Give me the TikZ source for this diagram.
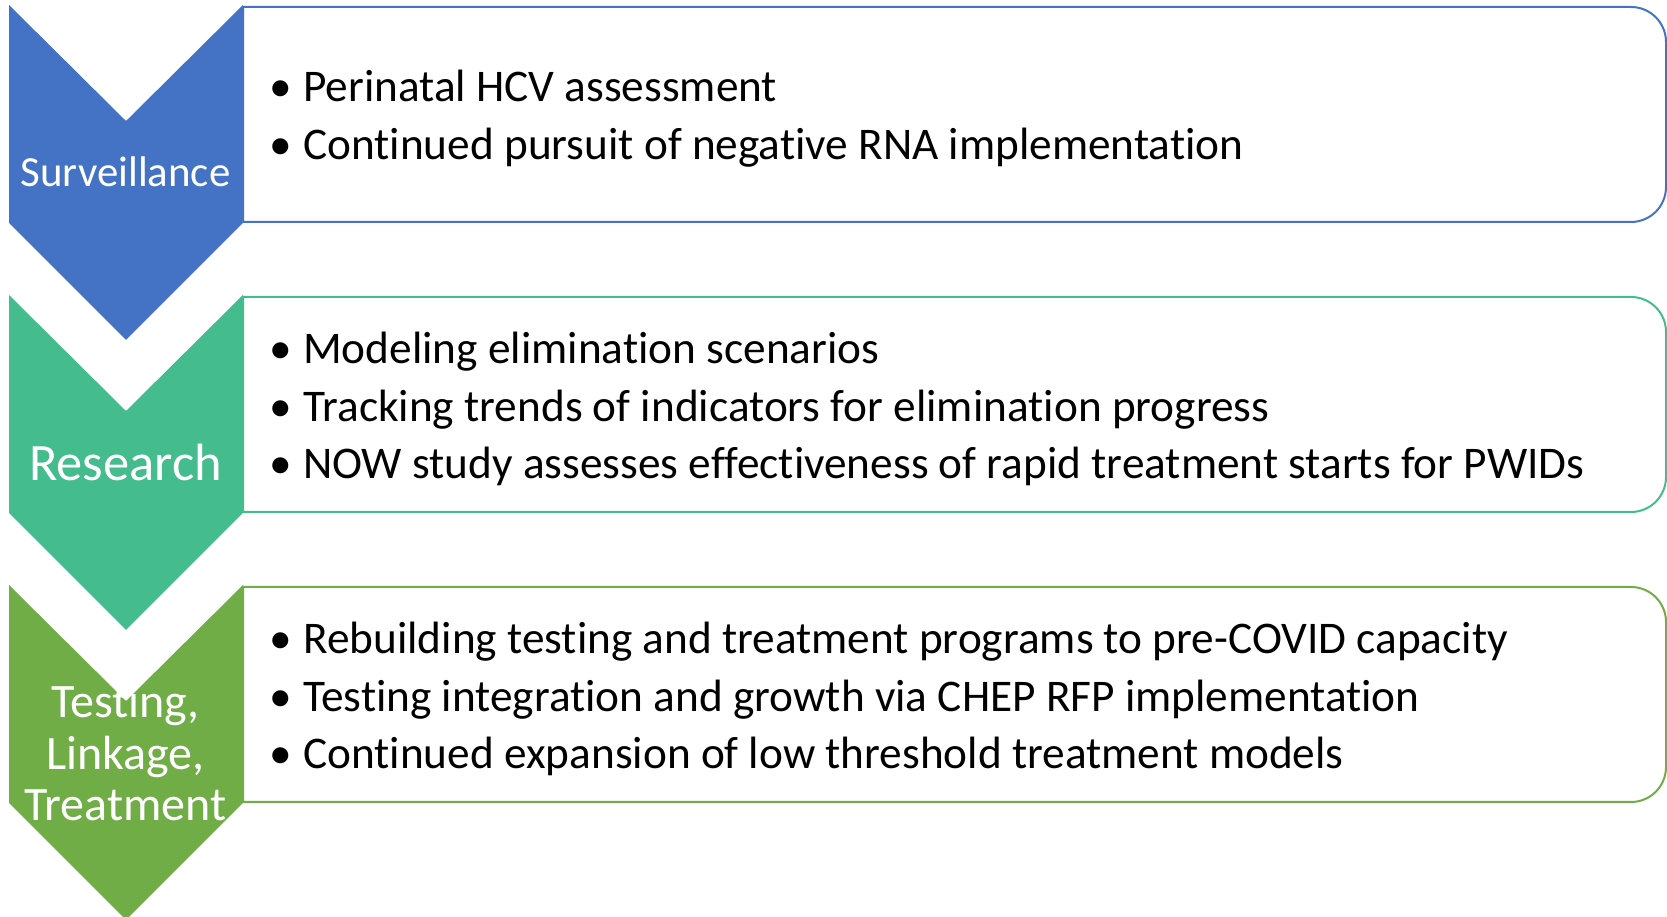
\documentclass[tikz,border=0pt]{standalone}
\usepackage{fontspec}
\setmainfont{Carlito}[RawFeature=-liga]
\definecolor{cblue}{HTML}{4472C4}
\definecolor{cteal}{HTML}{45BC8D}
\definecolor{cgreen}{HTML}{70AD47}
\tikzset{
  bodytext/.style={anchor=base west, inner sep=0pt, font=\fontsize{45.3}{54}\selectfont, text=black},
  chevtext/.style={inner sep=0pt, text=white, align=center},
  boxline/.style={line width=2pt},
}
\newcommand{\bul}{\makebox[34pt][l]{\textbullet}}
\begin{document}
\begin{tikzpicture}[x=1pt,y=1pt]
\useasboundingbox (0,0) rectangle (1667,917);
% boxes
\foreach \B/\c in {910/cblue,620/cteal,330/cgreen}{
  \draw[boxline,draw=\c] (243,\B-215) -- (243,\B) -- (1631,\B) arc (90:0:35) -- (1666,\B-180) arc (0:-90:35) -- cycle;
}
% chevrons
\foreach \T/\c in {912/cblue,622/cteal,332/cgreen}{
  \fill[\c] (9,\T) -- (126,\T-116) -- (243,\T) -- (243,\T-218) -- (126,\T-335) -- (9,\T-218) -- cycle;
}
% chevron labels
\node[chevtext, font=\fontsize{42.9}{46}\selectfont] (c1) at (125.5,745) {Surveillance};
\node[chevtext, font=\fontsize{52.5}{56}\selectfont] (c2) at (125.5,455) {Research};
\node[chevtext, font=\fontsize{48}{51.5}\selectfont] (c3) at (125.5,164) {Testing,\\Linkage,\\Treatment};
% body texts
\node[bodytext] (s1) at (269,917-102) {\bul Perinatal HCV assessment};
\node[bodytext] (s2) at (269,917-160) {\bul Continued pursuit of negative RNA implementation};
\node[bodytext] (r1) at (269,917-364) {\bul Modeling elimination scenarios};
\node[bodytext] (r2) at (269,917-422) {\bul Tracking trends of indicators for elimination progress};
\node[bodytext] (r3) at (269,917-479) {\bul NOW study assesses effectiveness of rapid treatment starts for PWIDs};
\node[bodytext] (t1) at (269,917-654) {\bul Rebuilding testing and treatment programs to pre-COVID capacity};
\node[bodytext] (t2) at (269,917-712) {\bul Testing integration and growth via CHEP RFP implementation};
\node[bodytext] (t3) at (269,917-769) {\bul Continued expansion of low threshold treatment models};
\end{tikzpicture}
\end{document}
